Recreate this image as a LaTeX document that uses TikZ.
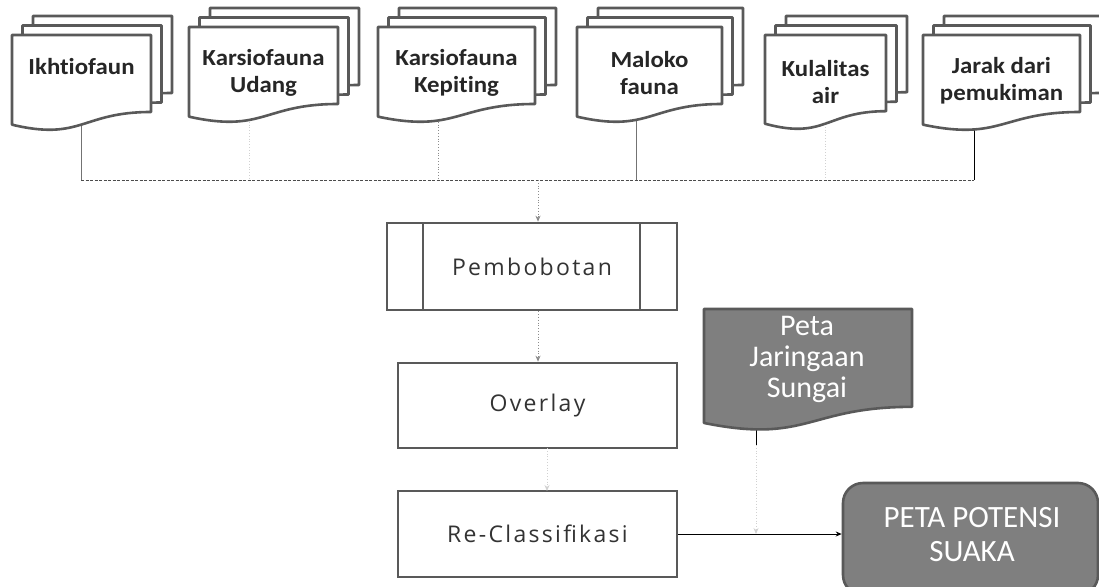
\documentclass[tikz,border=0pt]{standalone}
\usepackage{fontspec}
\setmainfont{Carlito}
\newfontfamily\docfont[FakeStretch=1.08,Ligatures=NoCommon]{Carlito}
\newfontfamily\procfont[LetterSpace=10]{Open Sans}
\usetikzlibrary{arrows.meta,backgrounds}
\definecolor{edge}{HTML}{595959}
\definecolor{fillg}{HTML}{7F7F7F}
\tikzset{
  page/.style={draw=edge,line width=2.6pt,fill=white,line join=round},
  gpage/.style={draw=edge,line width=2.6pt,fill=fillg,line join=round},
  doctext/.style={align=center,font=\docfont\bfseries\fontsize{23}{27}\selectfont,text=black!85},
  procbox/.style={draw=edge,line width=2.6pt,fill=white,font=\procfont\fontsize{23}{26}\selectfont,text=black!80},
  bus/.style={draw=black!70,line width=0.8pt,dash pattern=on 3pt off 1.5pt},
  conn/.style={draw=black!55,line width=0.8pt},
  dotconn/.style={draw=black!45,line width=0.8pt,dotted},
  faint/.style={draw=black!18,line width=0.8pt,dotted},
  tip/.style={-{Stealth[length=6pt,width=5pt]}},
}
\newcommand\docpath[5]{\path[#1] (#2,#3) -- ({#2+#4},#3) -- ({#2+#4},{#3+0.802*#5}) .. controls ({#2+0.5*#4},{#3+0.802*#5}) and ({#2+0.5*#4},{#3+1.107*#5}) .. (#2,{#3+0.934*#5}) -- cycle;}
\newcommand\docstack[7]{%
  \docpath{page}{#2+21}{#3-19}{#4}{#5}
  \docpath{page}{#2+10.5}{#3-9.5}{#4}{#5}
  \docpath{page}{#2}{#3}{#4}{#5}
  \node[doctext] (#1) at ({#2+0.5*#4},{#3+#7}) {#6};
}
\begin{document}
\begin{tikzpicture}[x=1pt,y=-1pt]
\useasboundingbox (0,0) rectangle (1099,586);
% documents
\docstack{ikh}{12}{35}{139}{96}{Ikhtiofaun}{32}
\docstack{udang}{189}{27}{149}{96}{Karsiofauna\\Udang}{46}
\docstack{kep}{378}{27}{157}{96}{Karsiofauna\\Kepiting}{46}
\docstack{mal}{577}{27}{145}{96}{Maloko\\fauna}{46}
\docstack{kual}{765}{35}{121}{95}{Kulalitas\\air}{47}
\docstack{jarak}{923}{35}{157}{96}{Jarak dari\\pemukiman}{46}
% Peta Jaringaan Sungai
\docpath{gpage}{704}{309}{208}{122}
\node[align=center,text=white,font=\fontsize{30}{31}\selectfont] (pjs) at (807,359) {Peta\\Jaringaan\\Sungai};
% process boxes
\node[procbox,minimum width=290pt,minimum height=87pt] (pemb) at (532,266.5) {Pembobotan};
\draw[edge,line width=2.2pt] (423,223) -- (423,310);
\draw[edge,line width=2.6pt] (640,223) -- (640,310);
\node[procbox,minimum width=279pt,minimum height=85pt] (over) at (537.5,405.5) {Overlay};
\node[procbox,minimum width=279pt,minimum height=86pt] (recl) at (537.5,534) {Re-Classifikasi};
\node[draw=edge,line width=2.6pt,fill=fillg,rounded corners=20pt,minimum width=255pt,minimum height=112pt,
  align=center,text=white,font=\fontsize{31}{34}\selectfont] (suaka) at (970.5,539) {};
\node[align=center,text=white,font=\fontsize{31}{34}\selectfont] (suakatext) at (972,535) {PETA POTENSI\\SUAKA};
% connector coordinates
\coordinate (ikh-o) at (81,110);
\coordinate (udang-o) at (249,105);
\coordinate (kep-o) at (438,105);
\coordinate (mal-o) at (636,105);
\coordinate (kual-o) at (825,110);
\coordinate (jarak-o) at (974,110);
\coordinate (busl) at (81,180);
\coordinate (busr) at (974,180);
\coordinate (busm) at (538,180);
\coordinate (pjs-o) at (756,420);
\coordinate (pjs-m) at (756,445);
\coordinate (join) at (756,534);
\begin{pgfonlayer}{background}
\draw[conn] (ikh-o) -- (ikh-o |- busl);
\draw[faint] (udang-o) -- (udang-o |- busl);
\draw[dotconn] (kep-o) -- (kep-o |- busl);
\draw[conn] (mal-o) -- (mal-o |- busl);
\draw[faint] (kual-o) -- (kual-o |- busl);
\draw[draw=black,line width=0.8pt] (jarak-o) -- (jarak-o |- busl);
\draw[bus] (busl) -- (busr);
\draw[draw=black, line width=0.9pt] (pjs-o) -- (pjs-m);
\end{pgfonlayer}
\draw[dotconn,tip] (busm) -- (busm |- pemb.north);
\draw[dotconn,tip] (pemb.south -| busm) -- (over.north -| busm);
\draw[faint,tip] (547,448) -- (547,491);
\draw[faint,tip] (pjs-m) -- (join);
\draw[draw=black,line width=0.9pt,tip] (recl.east) -- (recl.east -| suaka.west);
\end{tikzpicture}
\end{document}
